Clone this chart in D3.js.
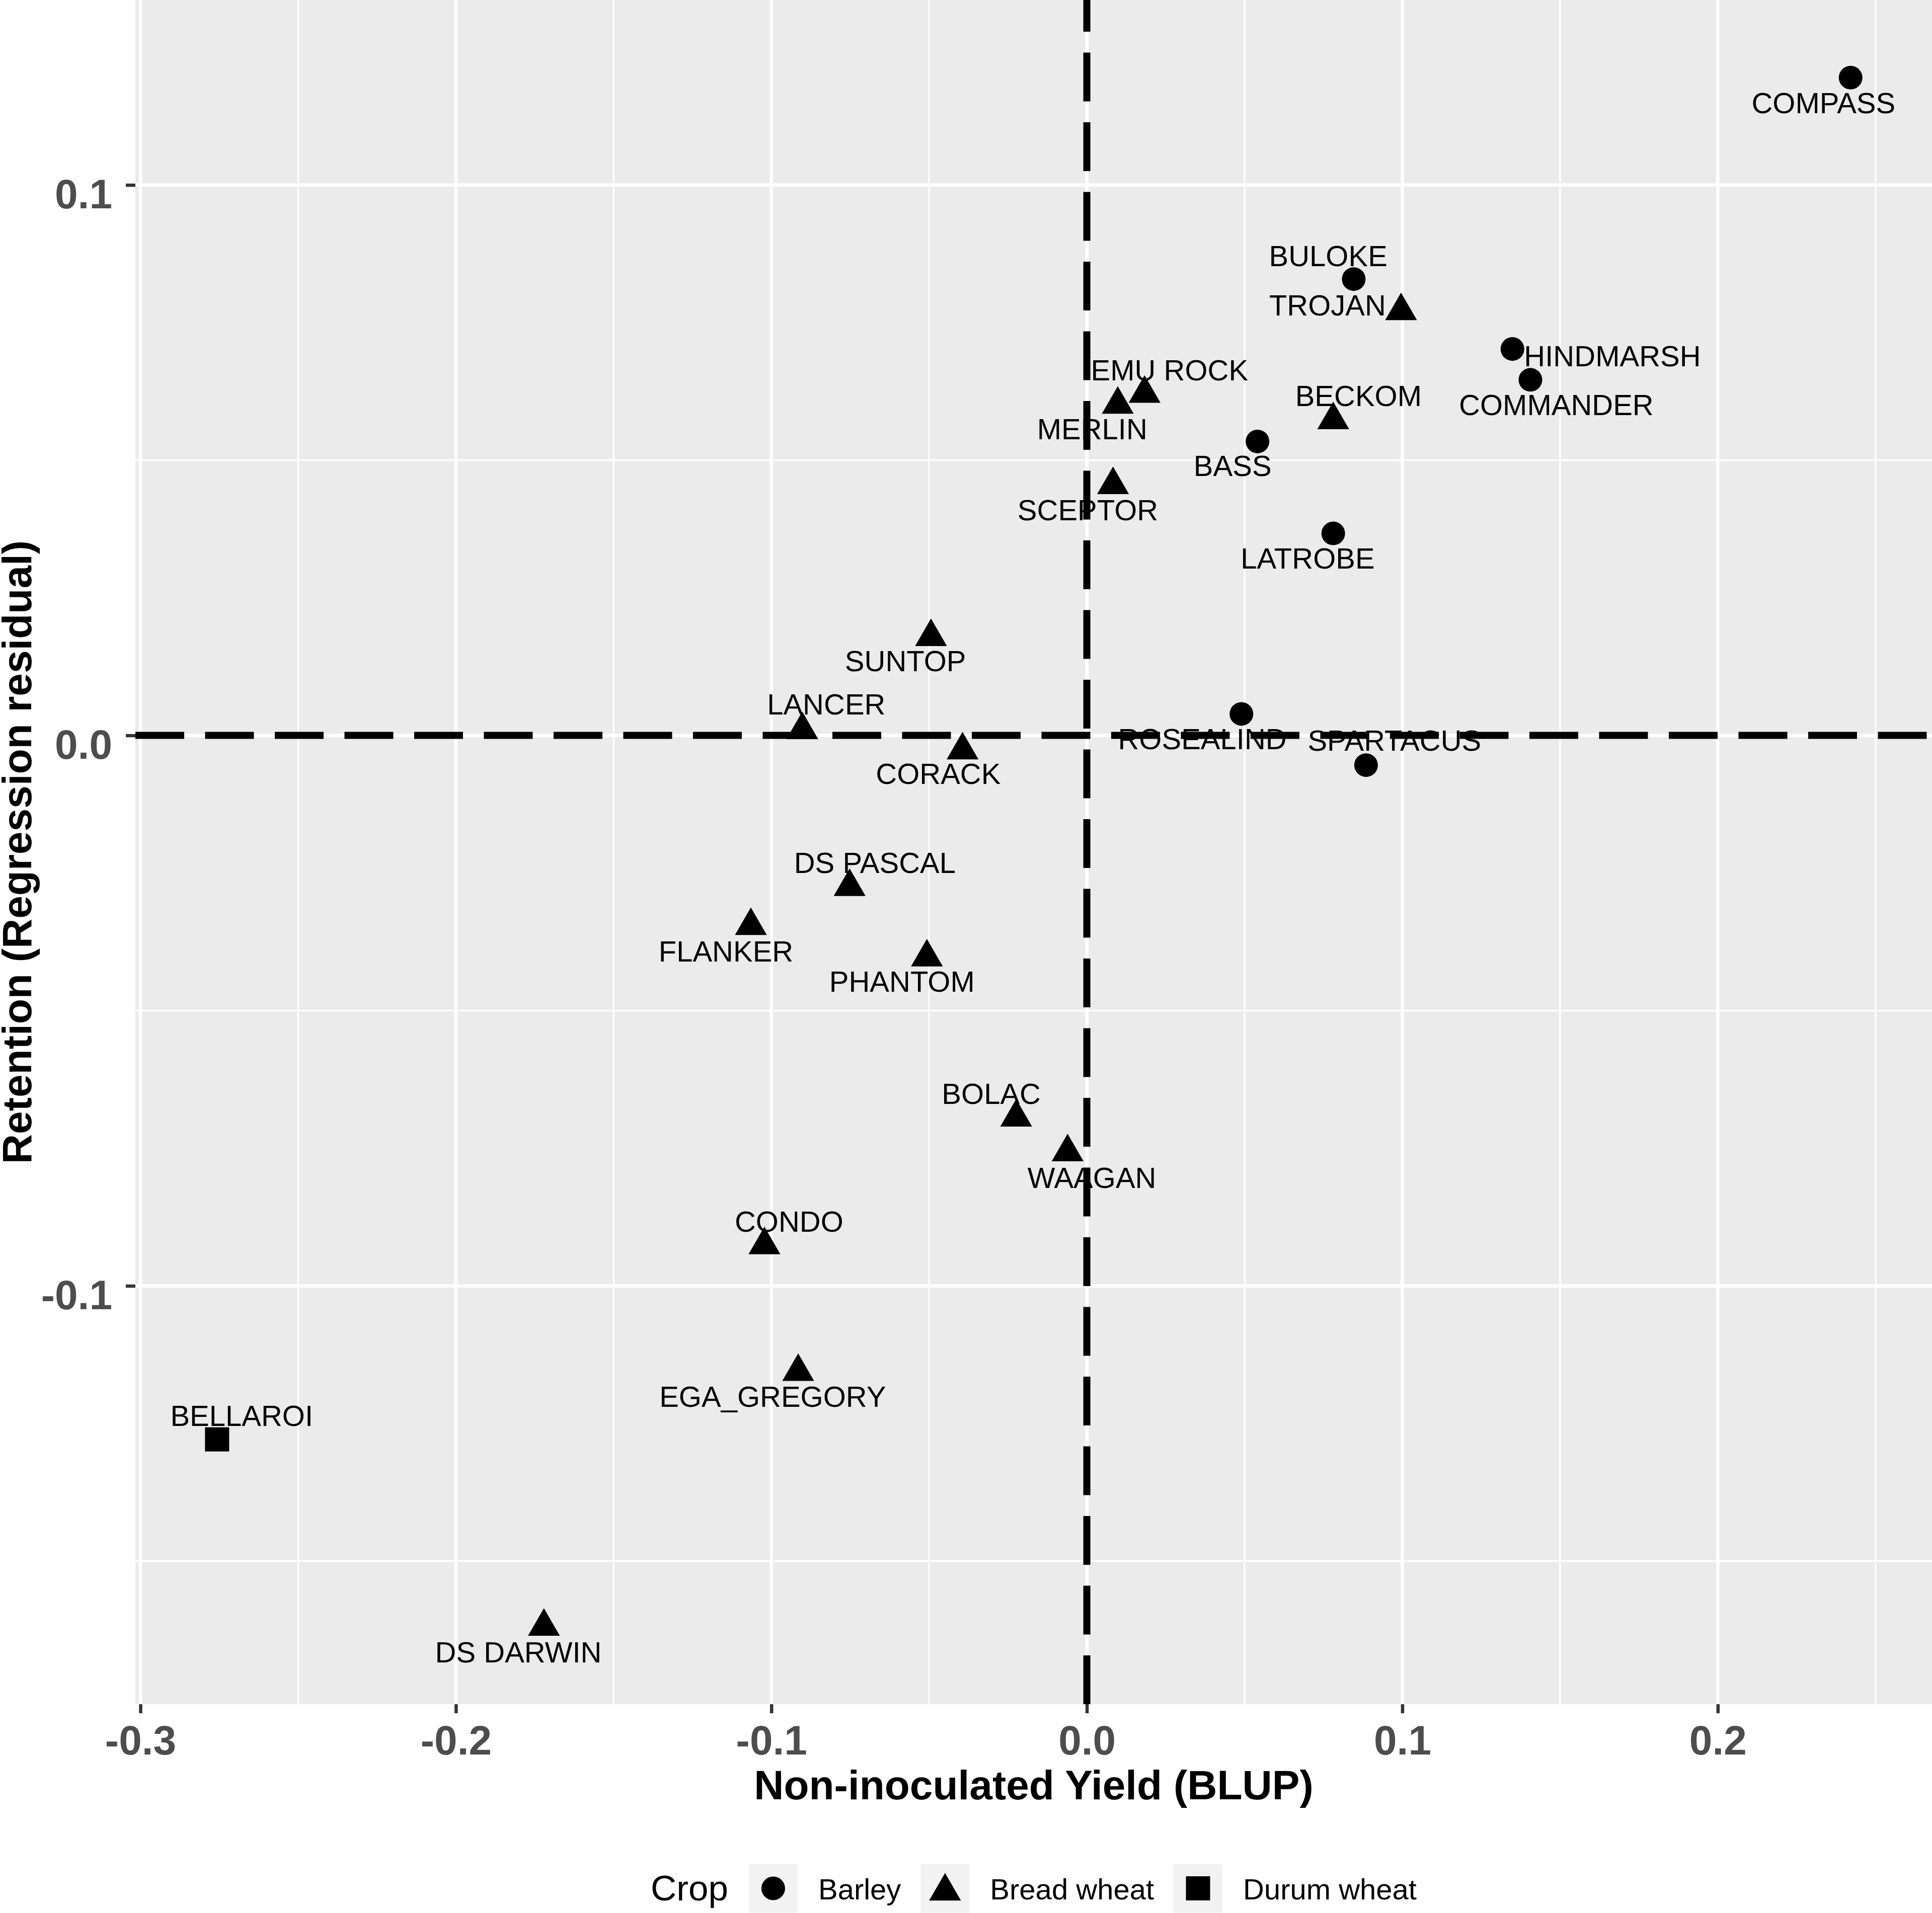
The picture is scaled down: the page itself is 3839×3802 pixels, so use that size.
<!doctype html>
<html>
<head>
<meta charset="utf-8"/>
<style>
  body { margin: 0; background: #fff; }
  svg { display: block; font-family: "Liberation Sans", Arial, sans-serif; }
</style>
<script src="https://d3js.org/d3.v7.min.js"></script>
</head>
<body>
<svg id="chart" width="3839" height="3802"></svg>
<script>
// cultivar data
var cultivars = ["COMPASS", "BULOKE", "TROJAN", "HINDMARSH", "COMMANDER", "EMU ROCK", "MERLIN", "BECKOM", "BASS",
  "SCEPTOR", "LATROBE", "SUNTOP", "LANCER", "CORACK", "ROSEALIND", "SPARTACUS", "DS PASCAL", "FLANKER",
  "PHANTOM", "BOLAC", "WAAGAN", "CONDO", "EGA_GREGORY", "BELLAROI", "DS DARWIN"];
var crops = ["Barley", "Barley", "Bread wheat", "Barley", "Barley", "Bread wheat", "Bread wheat", "Bread wheat", "Barley",
  "Bread wheat", "Barley", "Bread wheat", "Bread wheat", "Bread wheat", "Barley", "Barley", "Bread wheat", "Bread wheat",
  "Bread wheat", "Bread wheat", "Bread wheat", "Bread wheat", "Bread wheat", "Durum wheat", "Bread wheat"];
var yieldBLUP = [0.2421, 0.0846, 0.0996, 0.1349, 0.1406, 0.0183, 0.0098, 0.0781, 0.0541,
  0.0083, 0.0781, -0.0494, -0.0902, -0.0394, 0.0490, 0.0885, -0.0752, -0.1065,
  -0.0507, -0.0224, -0.0061, -0.1022, -0.0915, -0.2757, -0.1721];
var retention = [0.1195, 0.0829, 0.0771, 0.0702, 0.0646, 0.0621, 0.0601, 0.0573, 0.0534,
  0.0455, 0.0367, 0.0179, 0.0010, -0.0027, 0.0039, -0.0054, -0.0275, -0.0346,
  -0.0403, -0.0694, -0.0757, -0.0926, -0.1156, -0.1279, -0.1619];
// repelled label anchors (data units)
var labelYield = [0.2335, 0.0765, 0.0763, 0.1666, 0.1488, 0.0262, 0.0017, 0.0861, 0.0462,
  0.0003, 0.0700, -0.0575, -0.0826, -0.0471, 0.0366, 0.0975, -0.0672, -0.1144,
  -0.0586, -0.0303, 0.0016, -0.0944, -0.0996, -0.2679, -0.1802];
var labelRetention = [0.1149, 0.0871, 0.0782, 0.0689, 0.0601, 0.0664, 0.0557, 0.0617, 0.0490,
  0.0410, 0.0322, 0.0135, 0.0057, -0.0069, -0.0006, -0.0009, -0.0231, -0.0392,
  -0.0447, -0.0651, -0.0803, -0.0883, -0.1201, -0.1236, -0.1665];

var cropLevels = ["Barley", "Bread wheat", "Durum wheat"];
var xTicks = [-0.3, -0.2, -0.1, 0.0, 0.1, 0.2];
var xMinor = [-0.25, -0.15, -0.05, 0.05, 0.15, 0.25];
var yTicks = [-0.1, 0.0, 0.1];
var yMinor = [-0.15, -0.05, 0.05];

var svg = d3.select("#chart");
var panel = {left: 269, right: 3839, top: 0, bottom: 3387};

var x = d3.scaleLinear().domain([-0.3016, 0.2679]).range([panel.left, panel.right]);
var y = d3.scaleLinear().domain([-0.1760, 0.1336]).range([panel.bottom, panel.top]);

// R prints a plain hyphen, not the unicode minus
var fmt = function(v) { return d3.format(".1f")(v).replace("\u2212", "-"); };

var data = cultivars.map(function(name, i) {
  return {name: name, crop: crops[i], x: yieldBLUP[i], y: retention[i], lx: labelYield[i], ly: labelRetention[i]};
});

// shapes like R pch 19 / 17 / 15
function shapePath(crop, cx, cy) {
  if (crop === "Barley") {
    var r = 23.5;
    return "M" + (cx - r) + "," + cy + "a" + r + "," + r + " 0 1,0 " + (2 * r) + ",0a" + r + "," + r + " 0 1,0 " + (-2 * r) + ",0Z";
  } else if (crop === "Bread wheat") {
    var t = 36.5, hw = t * Math.sqrt(3) / 2;
    return "M" + cx + "," + (cy - t) + "L" + (cx + hw) + "," + (cy + t / 2) + "L" + (cx - hw) + "," + (cy + t / 2) + "Z";
  }
  var s = 24;
  return "M" + (cx - s) + "," + (cy - s) + "h" + (2 * s) + "v" + (2 * s) + "h" + (-2 * s) + "Z";
}

// panel background
svg.append("rect")
  .attr("x", panel.left).attr("y", panel.top)
  .attr("width", panel.right - panel.left).attr("height", panel.bottom - panel.top)
  .attr("fill", "#EBEBEB");

var grid = svg.append("g").attr("stroke", "#fff");
grid.selectAll(".xminor").data(xMinor.filter(function(v) { return x(v) <= panel.right; }))
  .join("line").attr("x1", x).attr("x2", x).attr("y1", panel.top).attr("y2", panel.bottom).attr("stroke-width", 3.3);
grid.selectAll(".yminor").data(yMinor)
  .join("line").attr("y1", y).attr("y2", y).attr("x1", panel.left).attr("x2", panel.right).attr("stroke-width", 3.3);
grid.selectAll(".xmajor").data(xTicks)
  .join("line").attr("x1", x).attr("x2", x).attr("y1", panel.top).attr("y2", panel.bottom).attr("stroke-width", 6.7);
grid.selectAll(".ymajor").data(yTicks)
  .join("line").attr("y1", y).attr("y2", y).attr("x1", panel.left).attr("x2", panel.right).attr("stroke-width", 6.7);

// reference lines at zero
svg.append("path")
  .attr("d", "M" + x(0) + "," + panel.bottom + "V" + panel.top)
  .attr("stroke", "#000").attr("stroke-width", 14).attr("stroke-dasharray", "97,41.5").attr("fill", "none");
svg.append("path")
  .attr("d", "M" + panel.left + "," + y(0) + "H" + panel.right)
  .attr("stroke", "#000").attr("stroke-width", 14).attr("stroke-dasharray", "97,41.5").attr("fill", "none");

// points
svg.append("g").selectAll("path").data(data).join("path")
  .attr("d", function(d) { return shapePath(d.crop, x(d.x), y(d.y)); })
  .attr("fill", "#000");

// labels
svg.append("g").selectAll("text").data(data).join("text")
  .attr("x", function(d) { return x(d.lx); })
  .attr("y", function(d) { return y(d.ly) + 20.5; })
  .attr("text-anchor", "middle")
  .attr("font-size", 58)
  .attr("fill", "#000")
  .text(function(d) { return d.name; });

// axes
var xAxis = svg.append("g").attr("transform", "translate(0," + panel.bottom + ")")
  .call(d3.axisBottom(x).tickValues(xTicks).tickSize(18).tickPadding(0).tickFormat(fmt));
xAxis.select(".domain").remove();
xAxis.selectAll(".tick line").attr("stroke", "#333").attr("stroke-width", 6.5);
xAxis.selectAll(".tick text").attr("dy", null).attr("y", 100)
  .attr("font-size", 82).attr("font-weight", "bold").attr("fill", "#4D4D4D")
  .attr("font-family", "Liberation Sans, Arial, sans-serif");

var yAxis = svg.append("g").attr("transform", "translate(" + panel.left + ",0)")
  .call(d3.axisLeft(y).tickValues(yTicks).tickSize(19).tickPadding(0).tickFormat(fmt));
yAxis.select(".domain").remove();
yAxis.selectAll(".tick line").attr("stroke", "#333").attr("stroke-width", 6.5);
yAxis.selectAll(".tick text").attr("dy", null).attr("x", -46).attr("y", 46)
  .attr("font-size", 82).attr("font-weight", "bold").attr("fill", "#4D4D4D")
  .attr("font-family", "Liberation Sans, Arial, sans-serif");

// axis titles
svg.append("text")
  .attr("x", (panel.left + panel.right) / 2).attr("y", 3576)
  .attr("text-anchor", "middle").attr("font-size", 82).attr("font-weight", "bold")
  .text("Non-inoculated Yield (BLUP)");
svg.append("text")
  .attr("transform", "translate(62," + (panel.top + panel.bottom) / 2 + ") rotate(-90)")
  .attr("text-anchor", "middle").attr("font-size", 82).attr("font-weight", "bold")
  .text("Retention (Regression residual)");

// legend
var legend = svg.append("g");
var legendTitle = legend.append("text").attr("y", 3777).attr("font-size", 71).text("Crop");
var keySize = 97, keyMid = 3753;
var cursor = legendTitle.node().getComputedTextLength() + 41;
cropLevels.forEach(function(c, i) {
  legend.append("rect").attr("x", cursor).attr("y", keyMid - keySize / 2)
    .attr("width", keySize).attr("height", keySize).attr("fill", "#F2F2F2");
  legend.append("path").attr("d", shapePath(c, cursor + keySize / 2, keyMid + (c === "Bread wheat" ? 6 : 0))).attr("fill", "#000");
  cursor += keySize + 41;
  var t = legend.append("text").attr("x", cursor).attr("y", 3775).attr("font-size", 58).text(c);
  cursor += t.node().getComputedTextLength() + (i < cropLevels.length - 1 ? 39 : 0);
});
legend.attr("transform", "translate(" + ((panel.left + panel.right) / 2 - cursor / 2) + ",0)");
</script>
</body>
</html>
